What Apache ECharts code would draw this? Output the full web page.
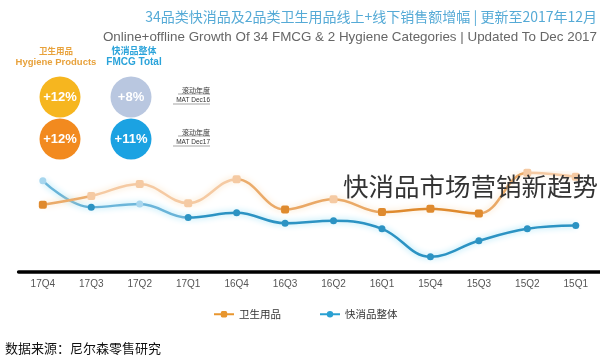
<!DOCTYPE html>
<html>
<head>
<meta charset="utf-8">
<script src="https://cdn.jsdelivr.net/npm/echarts@6/dist/echarts.min.js"></script>
<style>
html,body{margin:0;padding:0;background:#fff;}
#chart{width:600px;height:359px;}
</style>
</head>
<body>
<div id="chart"></div>
<script>
// ---- data ----
const categories = ['15Q1','15Q2','15Q3','15Q4','16Q1','16Q2','16Q3','16Q4','17Q1','17Q2','17Q3','17Q4'];
const fmcgTotal = [5.8, 5.4, 3.9, 1.9, 5.4, 6.4, 6.1, 7.4, 6.8, 8.5, 8.1, 11.4];
const hygiene   = [11.9, 12.4, 7.3, 7.9, 7.5, 9.1, 7.8, 11.6, 8.6, 11.0, 9.5, 8.4];
const seriesNames = ['快消品整体', '卫生用品'];
const titleCn = '34品类快消品及2品类卫生用品线上+线下销售额增幅 | 更新至2017年12月';
const titleEn = 'Online+offline Growth Of 34 FMCG & 2 Hygiene Categories | Updated To Dec 2017';
const matPeriods = ['MAT Dec16', 'MAT Dec17'];
const matFmcg = ['+8%', '+11%'];
const matHygiene = ['+12%', '+12%'];
const sourceText = '数据来源：尼尔森零售研究';
const watermark = '快消品市场营销新趋势';

const LAT = '"Liberation Sans", "Noto Sans CJK SC", sans-serif';
const CJK = '"Noto Sans CJK SC", sans-serif';

const chart = echarts.init(document.getElementById('chart'), null, {renderer: 'canvas'});

function txt(text, x, y, font, fill, align) {
  return {type: 'text', z: 100, style: {text: text, x: x, y: y, font: font, fill: fill,
    align: align || 'left', textAlign: align || 'left', verticalAlign: 'middle', textVerticalAlign: 'middle'}};
}

const rowY = [97, 139];
const circleFill = {hyg: ['#f6b61f', '#f28a1f'], fmcg: ['#b9c7e0', '#1ba2e2']};
const graphics = [
  txt(titleCn, 597, 17, '14px ' + CJK, '#55aad6', 'right'),
  txt(titleEn, 597, 37, '13.4px ' + LAT, '#666', 'right'),
  txt('卫生用品', 56, 51, 'bold 8.5px ' + CJK, '#e8a23c', 'center'),
  txt('Hygiene Products', 56, 62, 'bold 9.5px ' + LAT, '#e8a23c', 'center'),
  txt('快消品整体', 134, 51, 'bold 9px ' + CJK, '#2aa3da', 'center'),
  txt('FMCG Total', 134, 62, 'bold 10px ' + LAT, '#2aa3da', 'center'),
  txt(sourceText, 5, 348, '13px ' + CJK, '#111', 'left'),
  txt(watermark, 343, 186, '25.5px ' + CJK, '#333', 'left')
];
matPeriods.forEach(function (p, i) {
  const y = rowY[i];
  graphics.push({type: 'circle', z: 90, shape: {cx: 60, cy: y, r: 20.5}, style: {fill: circleFill.hyg[i]}});
  graphics.push({type: 'circle', z: 90, shape: {cx: 131, cy: y, r: 20.5}, style: {fill: circleFill.fmcg[i]}});
  graphics.push(txt(matHygiene[i], 60, y, 'bold 13px ' + LAT, '#fff', 'center'));
  graphics.push(txt(matFmcg[i], 131, y, 'bold 13px ' + LAT, '#fff', 'center'));
  graphics.push(txt('滚动年度', 210, y - 7, '7px ' + CJK, '#333', 'right'));
  graphics.push(txt(p, 210, y + 3, '6.5px ' + LAT, '#333', 'right'));
  graphics.push({type: 'line', z: 100, shape: {x1: 178, y1: y - 3, x2: 210, y2: y - 3}, style: {stroke: '#666', lineWidth: 0.6}});
  graphics.push({type: 'line', z: 100, shape: {x1: 173, y1: y + 7, x2: 210, y2: y + 7}, style: {stroke: '#666', lineWidth: 0.6}});
});

const B = '#2c93c3', b = '#a7d6ee';
const O = '#df8a2e', o = '#f5caa3';

chart.setOption({
  animation: false,
  backgroundColor: '#fff',
  grid: {left: 18.6, top: 172, width: 584.7, bottom: 87, containLabel: false},
  legend: {
    data: [seriesNames[1], seriesNames[0]],
    left: 208, top: 304, itemWidth: 20, itemHeight: 8, itemGap: 38,
    textStyle: {fontSize: 10.5, color: '#333', fontFamily: CJK}
  },
  visualMap: [
    {show: false, type: 'continuous', seriesIndex: 0, dimension: 0, min: 0, max: 11,
      inRange: {color: [B, B, B, B, B, B, B, B, B, b, B, b]}},
    {show: false, type: 'continuous', seriesIndex: 1, dimension: 0, min: 0, max: 11,
      inRange: {color: [o, o, O, O, O, o, O, o, o, o, o, O]}}
  ],
  xAxis: {
    type: 'category', data: categories, inverse: true, boundaryGap: true,
    axisLine: {lineStyle: {color: '#000', width: 3.5}},
    axisTick: {show: false},
    axisLabel: {color: '#555', fontSize: 10, margin: 7, fontFamily: LAT}
  },
  yAxis: {type: 'value', min: 0, max: 12.5, show: false, splitLine: {show: false}},
  series: [
    {name: seriesNames[0], type: 'line', data: fmcgTotal, smooth: 0.4,
      symbol: 'circle', symbolSize: 7, color: '#2aa0d2',
      lineStyle: {width: 2.5, shadowColor: 'rgba(120,215,245,0.8)', shadowBlur: 6}},
    {name: seriesNames[1], type: 'line', data: hygiene, smooth: 0.4,
      symbol: 'roundRect', symbolSize: 8, color: '#e8962e',
      lineStyle: {width: 2.5, shadowColor: 'rgba(250,215,170,0.8)', shadowBlur: 6}}
  ],
  graphic: graphics
});
</script>
</body>
</html>
